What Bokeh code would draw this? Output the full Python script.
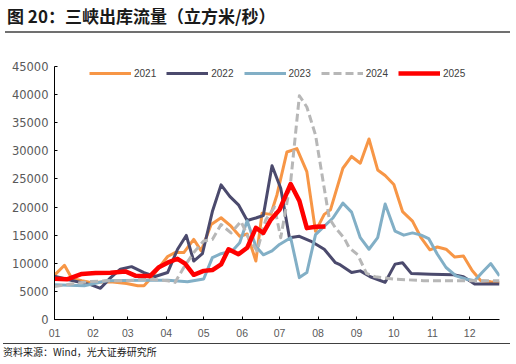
from bokeh.plotting import figure
from bokeh.models import Range1d, FixedTicker, Div
from bokeh.layouts import column
from bokeh.embed import file_html
from bokeh.resources import INLINE

title_text = "图 20：三峡出库流量（立方米/秒）"
source_text = "资料来源：Wind，光大证券研究所"

month_labels = ["01", "02", "03", "04", "05", "06", "07", "08", "09", "10", "11", "12"]
month_days = [0, 31, 59, 90, 120, 151, 181, 212, 243, 273, 304, 334]
y_ticks = [0, 5000, 10000, 15000, 20000, 25000, 30000, 35000, 40000, 45000]

series_names = ["2021", "2022", "2023", "2024", "2025"]

d2021 = [0, 8, 14, 22, 29, 45, 58, 67, 72, 77, 91, 97, 104, 112, 118, 126, 134, 142, 149, 155, 162,
         167, 174, 179, 187, 195, 203, 210, 217, 222, 232, 239, 246, 253, 260, 266, 273, 280, 288,
         295, 302, 308, 315, 322, 329, 336, 343, 351, 358]
v2021 = [7900, 9650, 7300, 6900, 6600, 6700, 6400, 6000, 6000, 7200, 11200, 11900, 11900, 14250, 12200,
         16900, 18100, 16600, 14800, 15200, 10400, 18900, 18700, 22200, 29800, 30400, 26300, 15700,
         18700, 19500, 26900, 29000, 27800, 32100, 26600, 25600, 24000, 19200, 17500, 14500, 12400,
         12900, 12500, 11100, 11300, 8700, 6900, 6700, 6600]

d2022 = [0, 14, 29, 37, 45, 53, 62, 72, 81, 91, 99, 106, 112, 119, 127, 134, 141, 148, 155, 162, 168,
         175, 182, 189, 197, 206, 217, 226, 230, 239, 246, 254, 266, 274, 280, 287, 303, 321, 329,
         338, 358]
v2022 = [7700, 6950, 6200, 5550, 7400, 8950, 9400, 8350, 7650, 8350, 12500, 14950, 10400, 11700, 19200,
         23950, 21900, 20400, 17600, 18050, 18500, 27350, 23350, 14550, 14800, 13950, 12500, 10100,
         9700, 8350, 8650, 7600, 6600, 9850, 10100, 8200, 8050, 7950, 7600, 6300, 6300]

d2023 = [0, 24, 42, 69, 91, 107, 120, 127, 134, 143, 149, 155, 162, 168, 175, 181, 190, 197, 203, 210,
         224, 232, 239, 246, 253, 260, 266, 274, 281, 288, 295, 301, 308, 315, 323, 331, 338, 344,
         351, 358]
v2023 = [6200, 6000, 6900, 7000, 7000, 6700, 7200, 11000, 11700, 12200, 13650, 17550, 13000, 11500,
         12200, 13350, 14550, 7450, 8350, 15100, 18050, 20700, 19100, 14550, 12500, 14550, 20550,
         15700, 15000, 15400, 15000, 14400, 11600, 9250, 7750, 7200, 6900, 8350, 9950, 7750]

d2024 = [0, 16, 29, 42, 59, 75, 91, 97, 104, 112, 120, 127, 134, 142, 150, 156, 163, 170, 177, 182,
         190, 197, 203, 210, 217, 221, 226, 233, 237, 244, 251, 258, 273, 297, 358]
v2024 = [5850, 6400, 6750, 6900, 6900, 7200, 6900, 6600, 9250, 11900, 13950, 14250, 16900, 15400,
         17450, 14550, 12200, 17750, 20000, 14550, 24500, 39800, 37800, 32800, 23350, 18000, 16300,
         14500, 12800, 11500, 8200, 7600, 7200, 6900, 6900]

d2025 = [0, 10, 22, 33, 45, 57, 65, 77, 84, 91, 99, 105, 112, 120, 127, 134, 140, 148, 155, 162, 168,
         174, 181, 190, 197, 203, 210, 218]
v2025 = [7250, 7150, 8100, 8250, 8300, 8550, 7800, 7750, 9300, 10100, 10800, 9950, 7950, 8650, 8800,
         9800, 12500, 11600, 12750, 16300, 15400, 17750, 19500, 24100, 21100, 16250, 16500, 16550]

colors = ["#F79646", "#4B4A6D", "#82AFC6", "#B7B7B7", "#FF0000"]
widths = [3, 3, 3, 3, 4.5]
dashes = ["solid", "solid", "solid", "8 4", "solid"]
xs = [d2021, d2022, d2023, d2024, d2025]
ys = [v2021, v2022, v2023, v2024, v2025]

W = 516
H_TOP, H_MAIN, H_BOT = 33, 310, 21

# ---- title strip (HTML text with a rule under it) ----
title_html = (
    '<div style="box-sizing:border-box; width:505px; height:%dpx; margin:0 0 0 5px; '
    'padding:7px 0 0 2px; border-bottom:2px solid #707070; '
    "font-family:'Noto Sans CJK SC'; font-weight:bold; font-size:17px; line-height:17px; "
    'color:#1a1a1a; white-space:nowrap;">%s</div>' % (H_TOP, title_text)
)
top = Div(text=title_html, width=W, height=H_TOP, margin=0)

# ---- main chart ----
p = figure(width=W, height=H_MAIN, x_range=Range1d(0, 358), y_range=Range1d(0, 45000),
           min_border_left=54, min_border_right=17, min_border_top=33, min_border_bottom=24,
           toolbar_location=None, output_backend="svg", title=None)
p.grid.visible = False
p.outline_line_color = None

for name, x, y, c, w, d in zip(series_names, xs, ys, colors, widths, dashes):
    p.line(x=x, y=y, line_color=c, line_width=w, line_dash=d, line_join="round",
           legend_label=name)

p.yaxis.ticker = FixedTicker(ticks=y_ticks)
p.yaxis.major_label_overrides = {t: str(t) for t in y_ticks}
p.xaxis.ticker = FixedTicker(ticks=month_days)
p.xaxis.major_label_overrides = {d: l for d, l in zip(month_days, month_labels)}
for ax in (p.xaxis[0], p.yaxis[0]):
    ax.axis_line_color = "black"
    ax.axis_line_width = 1
    ax.major_tick_in = 3
    ax.major_tick_out = 0
    ax.major_tick_line_color = "black"
    ax.minor_tick_line_color = None
    ax.major_label_text_color = "#595959"
p.yaxis.major_label_text_font = "DejaVu Sans"
p.yaxis.major_label_text_font_size = "11.5px"
p.yaxis.major_label_standoff = 6
p.xaxis.major_label_text_font = "Liberation Sans"
p.xaxis.major_label_text_font_size = "10.5px"
p.xaxis.major_label_standoff = 9

lg = p.legend[0]
lg.location = (35, 239)
lg.orientation = "horizontal"
lg.border_line_color = None
lg.background_fill_alpha = 0
lg.padding = 2
lg.margin = 0
lg.spacing = 10
lg.glyph_width = 42
lg.glyph_height = 14
lg.label_height = 14
lg.label_standoff = 3
lg.label_text_font = "Liberation Sans"
lg.label_text_font_size = "10px"
lg.label_text_color = "#404040"

# ---- source strip (rule above, HTML text) ----
source_html = (
    '<div style="box-sizing:border-box; width:507px; height:%dpx; margin:0 0 0 3px; '
    'padding:3px 0 0 0; border-top:1px solid #404040; '
    "font-family:'Noto Sans CJK SC'; font-size:10px; line-height:10px; "
    'color:#1a1a1a; white-space:nowrap;">%s</div>' % (H_BOT, source_text)
)
bot = Div(text=source_html, width=W, height=H_BOT, margin=0)

layout = column(top, p, bot, spacing=0)
open("out.html", "w").write(file_html(layout, INLINE))
